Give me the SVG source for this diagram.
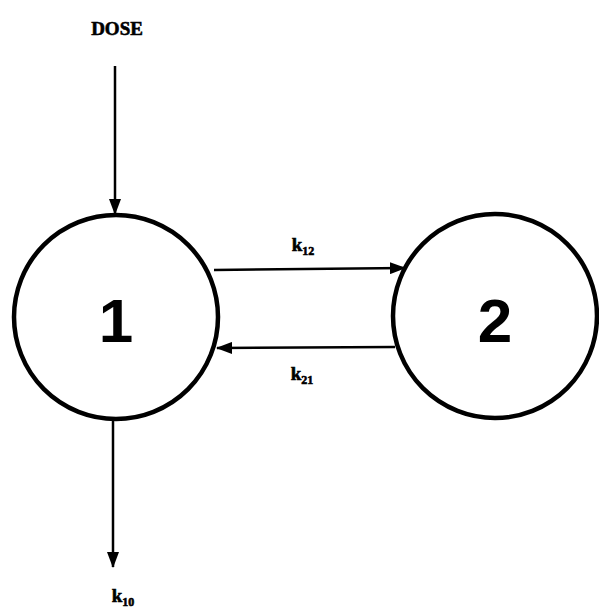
<svg xmlns="http://www.w3.org/2000/svg" width="599" height="610" viewBox="0 0 599 610">
<defs>
<marker id="ah" markerWidth="16" markerHeight="12" refX="15" refY="6" orient="auto" markerUnits="userSpaceOnUse">
<path d="M0,0 L16,6 L0,12 Z" fill="#000"/>
</marker>
<style>
.node{fill:#fff;stroke:#000;stroke-width:4.5}
.num{font-family:"Liberation Sans",Arial,sans-serif;font-weight:bold;font-size:62px;text-anchor:middle;fill:#000}
.lbl{font-family:"Liberation Serif","Times New Roman",serif;font-weight:bold;font-size:19px;fill:#000;text-anchor:middle;stroke:#000;stroke-width:0.6}
.sub{font-size:12px}
.edge{stroke:#000;stroke-width:2.5;fill:none;marker-end:url(#ah)}
</style>
</defs>
<rect width="599" height="610" fill="#fff"/>
<g id="connectors">
<line class="edge" x1="115" y1="66" x2="115" y2="214"/>
<line class="edge" x1="214" y1="270" x2="405" y2="268"/>
<line class="edge" x1="395" y1="347" x2="217" y2="348"/>
<line class="edge" x1="113" y1="419" x2="113" y2="567"/>
</g>
<g id="node1">
<circle class="node" cx="116" cy="317" r="102"/>
<text class="num" x="116" y="342">1</text>
</g>
<g id="node2">
<circle class="node" cx="495" cy="316" r="102"/>
<text class="num" x="495" y="342">2</text>
</g>
<g id="labels">
<text class="lbl" x="117" y="35">DOSE</text>
<text class="lbl" x="303" y="251">k<tspan class="sub" dy="4">12</tspan></text>
<text class="lbl" x="302" y="380">k<tspan class="sub" dy="4">21</tspan></text>
<text class="lbl" x="123" y="602">k<tspan class="sub" dy="4">10</tspan></text>
</g>
</svg>
